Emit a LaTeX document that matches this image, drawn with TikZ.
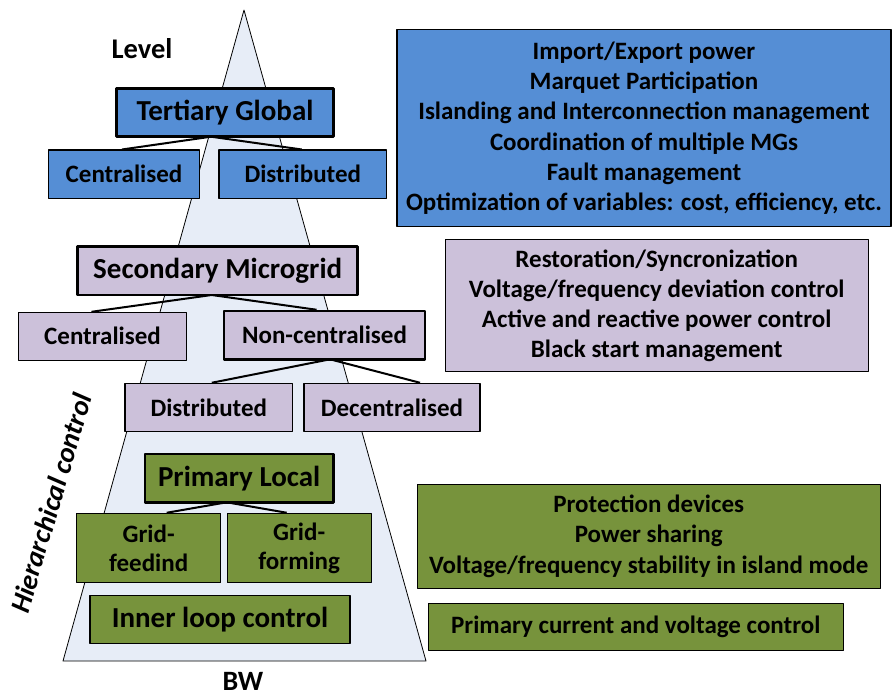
\documentclass[tikz,border=0pt]{standalone}
\usepackage{fontspec}
\setmainfont{Carlito}
\usetikzlibrary{positioning}
\definecolor{tblue}{RGB}{85,142,213}
\definecolor{spurple}{RGB}{204,193,218}
\definecolor{pgreen}{RGB}{119,147,60}
\definecolor{pyramid}{RGB}{231,237,247}
\begin{document}
\begin{tikzpicture}[x=1pt,y=-1pt,line join=round,
		lvl/.style={draw,line width=2.6pt,inner sep=0pt,font=\fontsize{29}{30}\selectfont\bfseries},
		sub/.style={draw,line width=1.1pt,inner sep=0pt,align=center,font=\fontsize{25}{29}\selectfont\bfseries},
		info/.style={draw,line width=1.1pt,inner sep=0pt,align=center,font=\fontsize{25}{30.3}\selectfont\bfseries},
		link/.style={line width=2pt}]
	\useasboundingbox (0,0) rectangle (893,692);
	\filldraw[fill=pyramid,line width=.8pt] (244,10)--(63,661)--(426,661)--cycle;
	\node[inner sep=0pt] (level) at (142,49) {\fontsize{28.5}{30}\selectfont\bfseries Level};
	\node[inner sep=0pt] (bw) at (243,681) {\fontsize{28}{30}\selectfont\bfseries BW};
	\node[rotate=73.5,inner sep=0pt] (hier) at (51,503) {\fontsize{28}{30}\selectfont\bfseries\itshape Hierarchical control};
	% tertiary
	\node[lvl,fill=tblue,minimum width=216.6pt,minimum height=48.4pt] (tg) at (225,112.5) {Tertiary Global};
	\node[sub,fill=tblue,minimum width=150.6pt,minimum height=48.3pt] (tc) at (124,174.2) {Centralised};
	\node[sub,fill=tblue,minimum width=167.7pt,minimum height=48.3pt] (td) at (302.8,174.2) {Distributed};
	% secondary
	\node[lvl,fill=spurple,minimum width=280pt,minimum height=48.3pt] (sm) at (217.7,270.8) {Secondary Microgrid};
	\node[sub,fill=spurple,minimum width=168.4pt,minimum height=47.7pt] (sc) at (102.5,336.2) {Centralised};
	\node[sub,fill=spurple,line width=2.6pt,minimum width=201pt,minimum height=48.3pt] (snc) at (324.5,335.2) {Non-centralised};
	\node[sub,fill=spurple,minimum width=167.7pt,minimum height=48.4pt] (sd) at (208.8,407.5) {Distributed};
	\node[sub,fill=spurple,minimum width=176pt,minimum height=48.4pt] (sdc) at (392,407.5) {Decentralised};
	% primary
	\node[lvl,fill=pgreen,minimum width=188.3pt,minimum height=48.3pt] (pl) at (239.2,478.2) {Primary Local};
	\node[sub,fill=pgreen,minimum width=144pt,minimum height=69.4pt] (pfd) at (148.7,548) {Grid-\\feedind};
	\node[sub,fill=pgreen,minimum width=143.7pt,minimum height=69.4pt] (pfm) at (299.2,548) {Grid-\\forming};
	\node[sub,fill=pgreen,font=\fontsize{29}{30}\selectfont\bfseries,minimum width=260pt,minimum height=48.3pt] (il) at (220,619.2) {Inner loop control};
	% tasks
	\node[info,fill=tblue,minimum width=494pt,minimum height=196.7pt] (tt) at (644,128.3) {Import/Export power\\Marquet Participation\\Islanding and Interconnection management\\Coordination of multiple MGs\\Fault management\\Optimization of variables: cost, efficiency, etc.};
	\node[info,fill=spurple,minimum width=423.3pt,minimum height=131.7pt] (st) at (656.7,305.8) {Restoration/Syncronization\\Voltage/frequency deviation control\\Active and reactive power control\\Black start management};
	\node[info,fill=pgreen,minimum width=462.7pt,minimum height=104.3pt] (pt) at (648.7,536.2) {Protection devices\\Power sharing\\Voltage/frequency stability in island mode};
	\node[info,fill=pgreen,minimum width=415pt,minimum height=46.7pt] (it) at (635.8,626.7) {Primary current and voltage control};
	% links
	\coordinate (tgj) at (211,136.7);
	\coordinate (smj) at (211.7,295);
	\coordinate (sncj) at (330,359.3);
	\coordinate (plj) at (226.7,502.3);
	\draw[link] ([xshift=-2pt]tc.north)--(tgj)--([xshift=-1pt]td.north);
	\draw[link] ([xshift=-11pt]sc.north)--(smj)--([xshift=-8pt]snc.north);
	\draw[link] ([xshift=3pt]sd.north)--(sncj)--([xshift=28pt]sdc.north);
	\draw[link] ([xshift=18pt]pfd.north)--(plj)--([xshift=-12.5pt]pfm.north);
\end{tikzpicture}
\end{document}
